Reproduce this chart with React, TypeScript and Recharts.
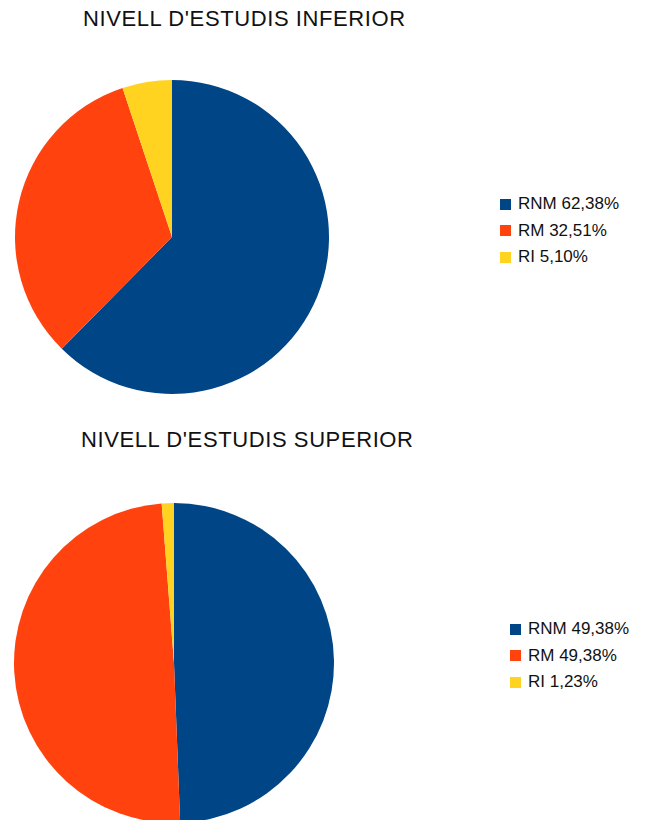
import { PieChart, Pie, Cell, Legend } from "recharts";

// values (percent)
const categories = ["RNM", "RM", "RI"];
const inferiorValues = [62.38, 32.51, 5.1];
const superiorValues = [49.38, 49.38, 1.23];
const colors = ["#004586", "#ff420e", "#ffd320"];

const FONT = '"Liberation Sans", Arial, sans-serif';

function fmt(v: number): string {
  return `${v.toFixed(2).replace(".", ",")}%`;
}

function buildData(values: number[]) {
  return categories.map((name, i) => ({ name, value: values[i] }));
}

function LegendList({ values }: { values: number[] }) {
  return (
    <div style={{ fontFamily: FONT, fontSize: 17, color: "#111" }}>
      {categories.map((name, i) => (
        <div
          key={name}
          style={{ display: "flex", alignItems: "center", height: 26.5 }}
        >
          <span
            style={{
              display: "inline-block",
              width: 11,
              height: 11,
              background: colors[i],
              marginRight: 7,
            }}
          />
          <span>{`${name} ${fmt(values[i])}`}</span>
        </div>
      ))}
    </div>
  );
}

interface PieBlockProps {
  title: string;
  values: number[];
  top: number;
  titleLeft: number;
  titleTop: number;
  cx: number;
  cy: number;
  radius: number;
  legendLeft: number;
  legendTop: number;
}

function PieBlock(p: PieBlockProps) {
  return (
    <div style={{ position: "absolute", left: 0, top: p.top, width: 645, height: 410 }}>
      <PieChart width={645} height={410} margin={{ top: 0, right: 0, bottom: 0, left: 0 }}>
        <Pie
          data={buildData(p.values)}
          dataKey="value"
          nameKey="name"
          cx={p.cx}
          cy={p.cy}
          outerRadius={p.radius}
          startAngle={90}
          endAngle={-270}
          stroke="none"
          isAnimationActive={false}
        >
          {categories.map((c, i) => (
            <Cell key={c} fill={colors[i]} />
          ))}
        </Pie>
        <Legend
          content={() => <LegendList values={p.values} />}
          wrapperStyle={{ left: p.legendLeft, top: p.legendTop, width: 140 }}
        />
      </PieChart>
      <div
        style={{
          position: "absolute",
          left: p.titleLeft,
          top: p.titleTop,
          fontFamily: FONT,
          fontSize: 22,
          letterSpacing: 0.6,
          lineHeight: "26px",
          whiteSpace: "nowrap",
          color: "#111",
        }}
      >
        {p.title}
      </div>
    </div>
  );
}

export default function App() {
  return (
    <div
      style={{
        position: "absolute",
        left: 0,
        top: 0,
        width: 645,
        height: 820,
        overflow: "hidden",
        background: "#fff",
      }}
    >
      <PieBlock
        title="NIVELL D'ESTUDIS INFERIOR"
        values={inferiorValues}
        top={0}
        titleLeft={83}
        titleTop={6}
        cx={172}
        cy={237}
        radius={157}
        legendLeft={500}
        legendTop={191}
      />
      <PieBlock
        title="NIVELL D'ESTUDIS SUPERIOR"
        values={superiorValues}
        top={410}
        titleLeft={81}
        titleTop={17}
        cx={174}
        cy={253}
        radius={160}
        legendLeft={510}
        legendTop={206}
      />
    </div>
  );
}
